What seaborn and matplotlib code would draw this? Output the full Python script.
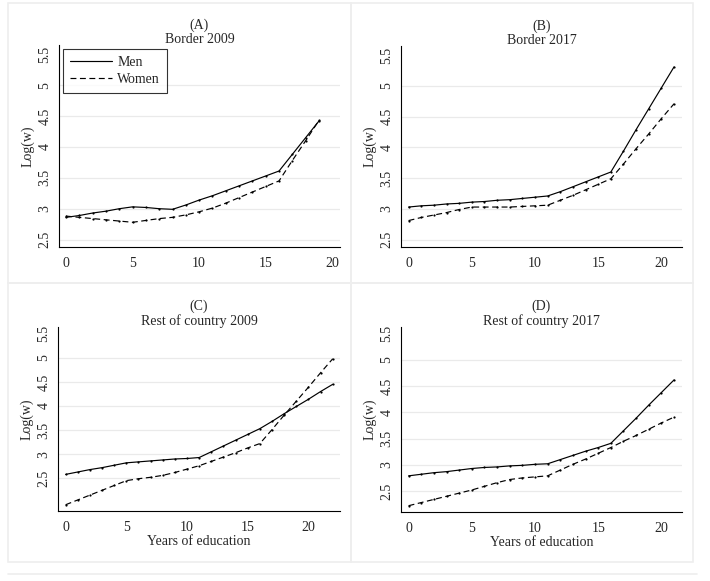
import pandas as pd
import matplotlib
matplotlib.use("Agg")
import matplotlib.pyplot as plt
import seaborn as sns
from matplotlib.lines import Line2D
from matplotlib.patches import Rectangle

sns.set_style("white")
plt.rcParams["font.family"] = ["Liberation Serif", "DejaVu Serif"]

# Log wages by years of education
years_a = list(range(0, 20))
men_a = [2.86, 2.89, 2.93, 2.96, 3.00, 3.03, 3.02, 3.00, 2.99, 3.06,
         3.14, 3.21, 3.29, 3.37, 3.45, 3.53, 3.61, 3.88, 4.15, 4.42]
women_a = [2.88, 2.86, 2.84, 2.82, 2.80, 2.78, 2.81, 2.84, 2.86, 2.90,
           2.95, 3.01, 3.09, 3.18, 3.27, 3.36, 3.45, 3.78, 4.10, 4.43]

years_b = list(range(0, 22))
men_b = [3.03, 3.05, 3.06, 3.08, 3.09, 3.11, 3.12, 3.14, 3.15, 3.17,
         3.19, 3.21, 3.28, 3.36, 3.44, 3.52, 3.60, 3.94, 4.29, 4.63,
         4.97, 5.31]
women_b = [2.81, 2.86, 2.90, 2.94, 2.99, 3.03, 3.03, 3.03, 3.03, 3.04,
           3.05, 3.06, 3.14, 3.22, 3.31, 3.40, 3.49, 3.73, 3.98, 4.22,
           4.47, 4.71]

years_c = list(range(0, 23))
men_c = [2.58, 2.63, 2.68, 2.72, 2.77, 2.82, 2.84, 2.86, 2.88, 2.90,
         2.91, 2.93, 3.05, 3.17, 3.29, 3.41, 3.53, 3.68, 3.84, 3.99,
         4.14, 4.30, 4.45]
women_c = [1.95, 2.05, 2.15, 2.25, 2.35, 2.45, 2.49, 2.52, 2.56, 2.62,
           2.69, 2.76, 2.85, 2.94, 3.03, 3.13, 3.22, 3.51, 3.81, 4.10,
           4.39, 4.69, 4.98]

years_d = list(range(0, 22))
men_d = [2.79, 2.82, 2.85, 2.87, 2.90, 2.93, 2.95, 2.96, 2.98, 2.99,
         3.01, 3.02, 3.10, 3.18, 3.26, 3.33, 3.41, 3.65, 3.89, 4.14,
         4.38, 4.62]
women_d = [2.22, 2.28, 2.34, 2.40, 2.46, 2.52, 2.59, 2.66, 2.72, 2.75,
           2.77, 2.79, 2.90, 3.01, 3.11, 3.22, 3.33, 3.45, 3.56, 3.68,
           3.80, 3.91]

letters = ["(A)", "(B)", "(C)", "(D)"]
titles = ["Border 2009", "Border 2017", "Rest of country 2009", "Rest of country 2017"]
y_ticks = [2.5, 3, 3.5, 4, 4.5, 5, 5.5]
y_tick_labels = ["2.5", "3", "3.5", "4", "4.5", "5", "5.5"]
x_ticks = [0, 5, 10, 15, 20]

W, H = 710, 581


def px_rect(l, t, r, b):
    return [l / W, 1 - b / H, (r - l) / W, (b - t) / H]


def make_df(years, men, women):
    return pd.concat([
        pd.DataFrame({"years": years, "logw": men, "sex": "Men"}),
        pd.DataFrame({"years": years, "logw": women, "sex": "Women"}),
    ])


panels = [
    (make_df(years_a, men_a, women_a), (59, 45, 340, 247), (8, 3, 351, 283), (-0.53, 20.58), (2.38, 5.65)),
    (make_df(years_b, men_b, women_b), (401, 46, 682, 247), (351, 3, 693, 283), (-0.6, 21.63), (2.38, 5.65)),
    (make_df(years_c, men_c, women_c), (58, 327, 340, 511), (8, 283, 351, 562), (-0.63, 22.6), (1.82, 5.64)),
    (make_df(years_d, men_d, women_d), (401, 327, 682, 512), (351, 283, 693, 562), (-0.6, 21.63), (2.1, 5.63)),
]

fig = plt.figure(figsize=(W / 100, H / 100), dpi=100)
fig.patch.set_facecolor("white")

for i, (df, ax_box, frame_box, xlim, ylim) in enumerate(panels):
    # light grey panel frame
    l, t, r, b = frame_box
    fig.patches.append(Rectangle((l / W, 1 - b / H), (r - l) / W, (b - t) / H,
                                 transform=fig.transFigure, fill=False,
                                 edgecolor="#eeeeee", linewidth=1.2, zorder=0))
    ax = fig.add_axes(px_rect(*ax_box))
    for y in y_ticks[:-1]:
        ax.axhline(y, color="#eaeaea", linewidth=0.9, zorder=0)
    sns.lineplot(data=df, x="years", y="logw", style="sex",
                 dashes={"Men": "", "Women": (5, 3)}, color="black",
                 linewidth=0.85, marker="o", markersize=1.6,
                 markeredgewidth=0, legend=False, ax=ax)
    ax.set_xlim(*xlim)
    ax.set_ylim(*ylim)
    ax.set_xticks(x_ticks)
    ax.set_yticks(y_ticks)
    ax.set_yticklabels(y_tick_labels, rotation=90, va="center")
    ax.tick_params(axis="both", labelsize=10, length=4, width=0.8,
                   direction="out", color="black", pad=3)
    ax.tick_params(axis="y", pad=1.5)
    for side in ["top", "right"]:
        ax.spines[side].set_visible(False)
    for side in ["left", "bottom"]:
        ax.spines[side].set_color("black")
        ax.spines[side].set_linewidth(0.8)
    ax.set_ylabel("Log(w)", fontsize=10)
    ax.yaxis.label.set_va("center")
    ax.yaxis.set_label_coords(-31 / 281, 0.5)
    ax.set_xlabel("Years of education" if i >= 2 else "", fontsize=10, labelpad=1)
    ax.set_title(letters[i] + "\n" + titles[i], fontsize=10, pad=1.5, linespacing=1.1)

    if i == 0:
        handles = [Line2D([], [], color="black", linewidth=0.85),
                   Line2D([], [], color="black", linewidth=0.85, dashes=(5, 3))]
        leg = ax.legend(handles, ["Men", "Women"], loc="upper left",
                        bbox_to_anchor=(0.0, 1.0), frameon=True,
                        fancybox=False, edgecolor="black", fontsize=10,
                        handlelength=3.0, handletextpad=0.4,
                        borderpad=0.5, labelspacing=0.3, borderaxespad=0.3)
        leg.get_frame().set_linewidth(0.8)

# faint rule under the figure
fig.add_artist(Line2D([8 / W, 697 / W], [1 - 574 / H, 1 - 574 / H],
                      transform=fig.transFigure, color="#eeeeee", linewidth=1.2))

fig.savefig("out.png", dpi=100, facecolor="white")
